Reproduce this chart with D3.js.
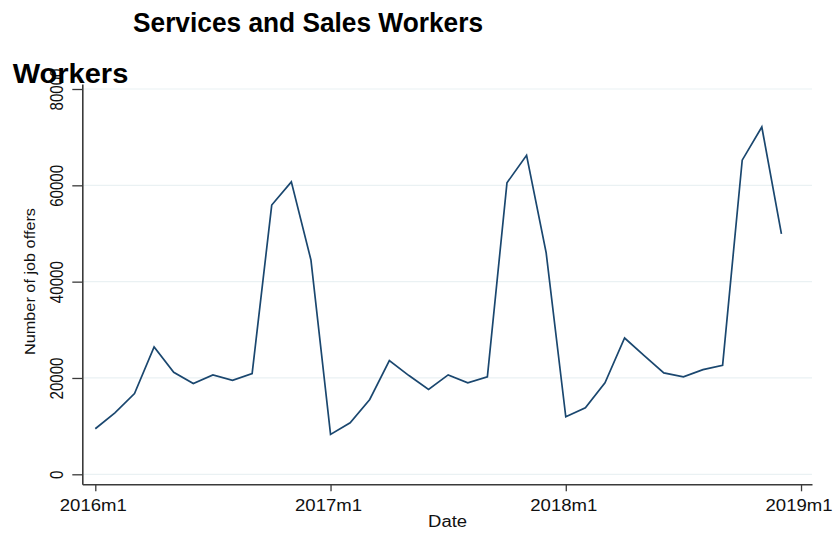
<!DOCTYPE html>
<html>
<head>
<meta charset="utf-8">
<script src="https://cdn.jsdelivr.net/npm/d3@7"></script>
<style>
  html, body { margin: 0; padding: 0; background: #ffffff; }
  svg { display: block; font-family: "Liberation Sans", Arial, sans-serif; }
</style>
</head>
<body>
<svg id="chart" width="836" height="533"></svg>
<script>
// ---- Data ----
const months = [
  "2016m1","2016m2","2016m3","2016m4","2016m5","2016m6","2016m7","2016m8","2016m9","2016m10","2016m11","2016m12",
  "2017m1","2017m2","2017m3","2017m4","2017m5","2017m6","2017m7","2017m8","2017m9","2017m10","2017m11","2017m12",
  "2018m1","2018m2","2018m3","2018m4","2018m5","2018m6","2018m7","2018m8","2018m9","2018m10","2018m11","2018m12"
];
const jobOffers = [
  9460, 12770, 16770, 26440, 21180, 18840, 20640, 19520, 20910, 55900, 60720, 44510,
  8280, 10700, 15530, 23600, 20500, 17600, 20640, 18990, 20230, 60520, 66250, 45960,
  11950, 13810, 18990, 28300, 24640, 21060, 20230, 21740, 22630, 65220, 72110, 49900
];
const yTicks = [0, 20000, 40000, 60000, 80000];
const xTickIndex = [0, 12, 24, 36];
const xTickLabels = ["2016m1", "2017m1", "2018m1", "2019m1"];
const titleText = "Services and Sales Workers";
const titleOverflow = "Workers";
const yLabel = "Number of job offers";
const xLabel = "Date";

// ---- Scales ----
const svg = d3.select("#chart");
const x = d3.scaleLinear().domain([-0.663, 36.56]).range([82.3, 812]);
const y = d3.scaleLinear().domain([-2077, 81038]).range([484.3, 84]);

// ---- Gridlines ----
svg.append("g")
  .selectAll("line")
  .data(yTicks)
  .join("line")
  .attr("x1", x(-0.6)).attr("x2", x(36.56))
  .attr("y1", d => y(d)).attr("y2", d => y(d))
  .attr("stroke", "#eaf1f3")
  .attr("stroke-width", 1.2);

// ---- Y axis ----
const yAxis = svg.append("g")
  .attr("transform", `translate(${x(-0.663)},0)`)
  .call(d3.axisLeft(y).tickValues(yTicks).tickSize(10).tickSizeOuter(0).tickFormat(d3.format("d")));
yAxis.select(".domain").attr("stroke", "#3a3a3a").attr("stroke-width", 1.6);
yAxis.selectAll(".tick line").attr("stroke", "#3a3a3a").attr("stroke-width", 1.3);
yAxis.selectAll(".tick text")
  .attr("transform", "rotate(-90)")
  .attr("x", 0)
  .attr("y", -19.5)
  .attr("dy", 0)
  .attr("text-anchor", "middle")
  .attr("fill", "#111")
  .style("font-size", "19px")
  .attr("textLength", d => String(d).length * 8.4)
  .attr("lengthAdjust", "spacingAndGlyphs");

// ---- X axis ----
const xAxis = svg.append("g")
  .attr("transform", `translate(0,${y(-2077)})`)
  .call(d3.axisBottom(x).tickValues(xTickIndex).tickSize(7).tickSizeOuter(0)
    .tickFormat((d, i) => xTickLabels[i]));
xAxis.select(".domain").attr("stroke", "#3a3a3a").attr("stroke-width", 1.6);
xAxis.selectAll(".tick line").attr("stroke", "#3a3a3a").attr("stroke-width", 1.3);
xAxis.selectAll(".tick text")
  .attr("y", 27)
  .attr("dy", 0)
  .attr("dx", -2.5)
  .attr("fill", "#111")
  .style("font-size", "17px")
  .attr("textLength", 67)
  .attr("lengthAdjust", "spacingAndGlyphs");

// ---- Line ----
const line = d3.line()
  .x((d, i) => x(i))
  .y(d => y(d));
svg.append("path")
  .datum(jobOffers)
  .attr("d", line)
  .attr("fill", "none")
  .attr("stroke", "#1a476f")
  .attr("stroke-width", 1.7)
  .attr("stroke-linejoin", "miter");

// ---- Axis titles ----
svg.append("text")
  .attr("transform", "translate(35,281.5) rotate(-90)")
  .attr("text-anchor", "middle")
  .attr("fill", "#111")
  .style("font-size", "15.5px")
  .attr("textLength", 147)
  .attr("lengthAdjust", "spacingAndGlyphs")
  .text(yLabel);

svg.append("text")
  .attr("x", 447.6)
  .attr("y", 526.5)
  .attr("text-anchor", "middle")
  .attr("fill", "#111")
  .style("font-size", "16px")
  .attr("textLength", 39)
  .attr("lengthAdjust", "spacingAndGlyphs")
  .text(xLabel);

// ---- Titles ----
svg.append("text")
  .attr("x", 133)
  .attr("y", 32)
  .attr("fill", "#000")
  .style("font-size", "28.5px")
  .style("font-weight", "bold")
  .attr("textLength", 350)
  .attr("lengthAdjust", "spacingAndGlyphs")
  .text(titleText);

svg.append("text")
  .attr("x", 12.7)
  .attr("y", 83.3)
  .attr("fill", "#000")
  .style("font-size", "28.5px")
  .style("font-weight", "bold")
  .attr("textLength", 115.6)
  .attr("lengthAdjust", "spacingAndGlyphs")
  .text(titleOverflow);
</script>
</body>
</html>
